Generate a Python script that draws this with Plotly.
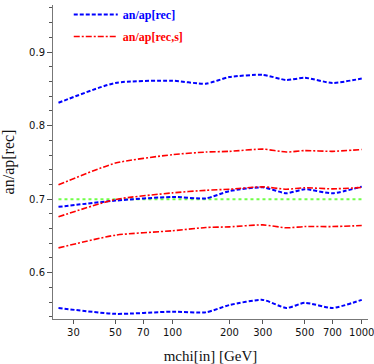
import plotly.graph_objects as go

mass = [25, 50, 100, 150, 200, 300, 400, 500, 700, 1000]

rec_upper = [0.831, 0.858, 0.861, 0.857, 0.866, 0.869, 0.862, 0.865, 0.858, 0.864]
rec_mid = [0.6895, 0.698, 0.703, 0.701, 0.711, 0.716, 0.708, 0.7135, 0.708, 0.717]
rec_lower = [0.552, 0.544, 0.547, 0.546, 0.556, 0.563, 0.552, 0.559, 0.552, 0.563]

recs_upper = [0.7195, 0.749, 0.7605, 0.764, 0.765, 0.768, 0.764, 0.766, 0.765, 0.7675]
recs_mid = [0.676, 0.6995, 0.7085, 0.712, 0.7135, 0.7167, 0.7135, 0.7155, 0.714, 0.7158]
recs_lower = [0.6337, 0.651, 0.657, 0.6614, 0.6623, 0.665, 0.661, 0.6627, 0.6627, 0.6641]

ref_x = [25, 1000]
ref_y = [0.7, 0.7]

x_ticks = [30, 50, 70, 100, 200, 300, 500, 700, 1000]

BLUE = "#0000ff"
RED = "#ff0000"
GREEN = "#70ff48"

fig = go.Figure()

fig.add_trace(go.Scatter(x=ref_x, y=ref_y, mode="lines",
                         line=dict(color=GREEN, width=2, dash="dot"),
                         showlegend=False, hoverinfo="skip"))

for i, ys in enumerate([rec_upper, rec_mid, rec_lower]):
    fig.add_trace(go.Scatter(
        x=mass, y=ys, mode="lines",
        line=dict(color=BLUE, width=2, dash="4px,2px", shape="spline", smoothing=0.6),
        name="<b><span style='color:#0000ff'>an/ap[rec]</span></b>",
        legendgroup="rec", showlegend=(i == 0)))

for i, ys in enumerate([recs_upper, recs_mid, recs_lower]):
    fig.add_trace(go.Scatter(
        x=mass, y=ys, mode="lines",
        line=dict(color=RED, width=1.6, dash="6px,2px,2px,2px", shape="spline", smoothing=0.6),
        name="<b><span style='color:#ff0000'>an/ap[rec,s]</span></b>",
        legendgroup="recs", showlegend=(i == 0)))

fig.update_layout(
    width=374, height=364, autosize=False,
    margin=dict(l=53, r=6, t=5, b=45, autoexpand=False),
    paper_bgcolor="white", plot_bgcolor="white",
    legend=dict(x=0.05, y=1.0, xanchor="left", yanchor="top",
                xref="paper", yref="container",
                bgcolor="rgba(0,0,0,0)",
                font=dict(family="Liberation Serif", size=12),
                tracegroupgap=3, itemwidth=44),
)

fig.update_xaxes(
    type="log", range=[1.369, 3.033],
    tickvals=x_ticks, ticktext=[str(v) for v in x_ticks],
    ticks="outside", ticklen=4, tickcolor="#555",
    showline=True, linecolor="#777", linewidth=1,
    showgrid=False, zeroline=False, ticklabeloverflow="allow",
    tickfont=dict(family="DejaVu Sans", size=10, color="#111"),
    title=dict(text="mchi[in] [GeV]", font=dict(family="Liberation Serif", size=15, color="#111"), standoff=13),
)

fig.update_yaxes(
    range=[0.537, 0.964], tick0=0, dtick=0.1, tickformat=".1f",
    ticks="outside", ticklen=5, tickcolor="#555",
    minor=dict(dtick=0.02, ticks="outside", ticklen=3, tickcolor="#555"),
    showline=True, linecolor="#777", linewidth=1,
    showgrid=False, zeroline=False,
    tickfont=dict(family="DejaVu Sans", size=10, color="#111"),
    title=dict(text="an/ap[rec]", font=dict(family="Liberation Serif", size=16, color="#111"), standoff=10),
)

fig.write_html("out.html", config={"displayModeBar": False},
               post_script="document.body.style.margin='0';")
